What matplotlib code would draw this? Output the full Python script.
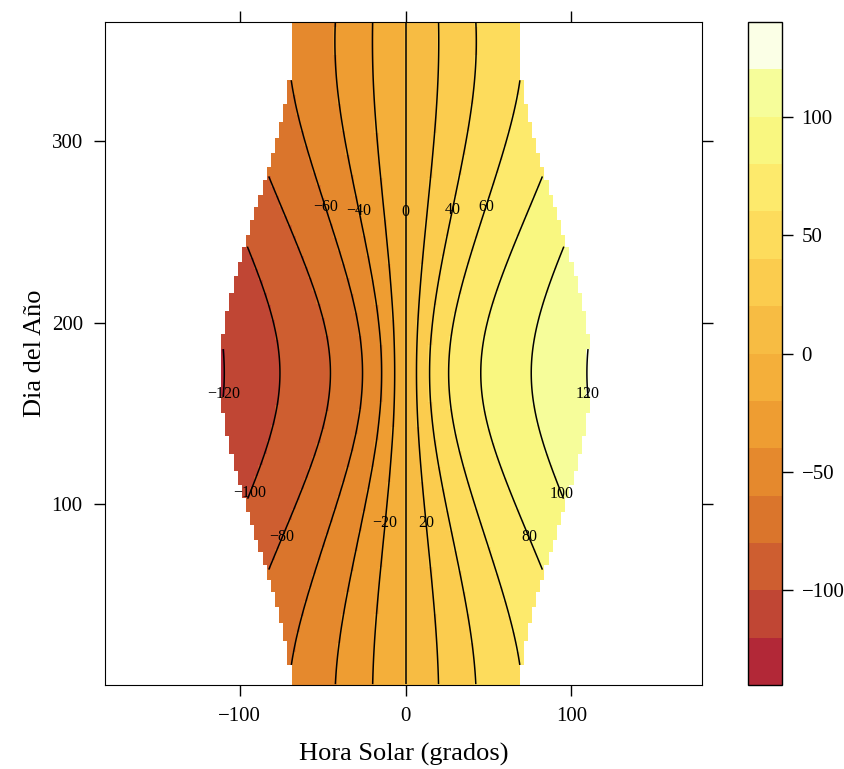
import numpy as np
import matplotlib
matplotlib.use("Agg")
import matplotlib.pyplot as plt
from matplotlib.colors import ListedColormap, BoundaryNorm

plt.rcParams['font.family'] = ['Liberation Serif', 'DejaVu Serif']

# grid: solar hour angle (10 min steps, degrees) and day of year
hour_angle = np.arange(-180, 180, 2.5)
days = np.arange(1, 366)
latitude = 40.4

# levels and colours of the level plot
levels = np.arange(-140, 141, 20)
contour_levels = np.arange(-120, 121, 20)
band_colors = ['#B22837', '#C04634', '#CE5E30', '#DA752C', '#E5892D',
               '#EE9D32', '#F4AF3A', '#F7BC43', '#FBCC4E', '#FDDC5C',
               '#FDEA6C', '#F9F780', '#F6FD9A', '#FBFFE6']
cbar_ticks = [-100, -50, 0, 50, 100]

# solar azimuth (south = 0, east negative)
W, D = np.meshgrid(np.radians(hour_angle), days)
phi = np.radians(latitude)
decl = np.radians(23.45) * np.sin(2 * np.pi * (284 + D) / 365)
sin_alt = np.sin(phi) * np.sin(decl) + np.cos(phi) * np.cos(decl) * np.cos(W)
cos_alt = np.sqrt(1 - sin_alt**2)
cos_az = (sin_alt * np.sin(phi) - np.sin(decl)) / (cos_alt * np.cos(phi))
az = np.sign(W) * np.degrees(np.arccos(np.clip(cos_az, -1, 1)))
az = np.ma.masked_where(sin_alt <= 0, az)

fig = plt.figure(figsize=(8.44, 7.69), dpi=100)
ax = fig.add_axes([0.1244, 0.1092, 0.7074, 0.8622])
cax = fig.add_axes([0.8863, 0.1092, 0.0403, 0.8622])

cmap = ListedColormap(band_colors)
norm = BoundaryNorm(levels, cmap.N)
mesh = ax.pcolormesh(hour_angle, days, az, cmap=cmap, norm=norm, shading='nearest')

cs = ax.contour(hour_angle, days, az, levels=contour_levels, colors='k',
                linewidths=1.1, linestyles='solid')
label_pos = [(-48, 264), (-26, 262), (0, 261), (28, 262), (48, 264),
             (-110.6, 161), (110.6, 161), (-94, 106), (95, 106),
             (-75, 82), (75, 82), (-12, 89.5), (12.7, 89.5)]
labels = ax.clabel(cs, inline=False, fontsize=11.5, manual=label_pos,
                   fmt=lambda v: f"{v:g}".replace('-', '\u2212'))
for t in labels:
    t.set_rotation(0)

ax.set_xlim(-181.25, 178.75)
ax.set_ylim(0.5, 365.5)
ax.set_xticks([-100, 0, 100])
ax.set_yticks([100, 200, 300])
ax.tick_params(direction='out', length=8, width=1, top=True, right=True,
               labelsize=15, pad=8)
ax.set_xlabel('Hora Solar (grados)', fontsize=19, labelpad=12)
ax.set_ylabel('Dia del Año', fontsize=19, labelpad=4)

cb = fig.colorbar(mesh, cax=cax, ticks=cbar_ticks)
cb.outline.set_linewidth(1)
cb.minorticks_off()
cax.tick_params(direction='out', length=8, width=1, labelsize=15, pad=6)

fig.savefig('out.png', dpi=100)
